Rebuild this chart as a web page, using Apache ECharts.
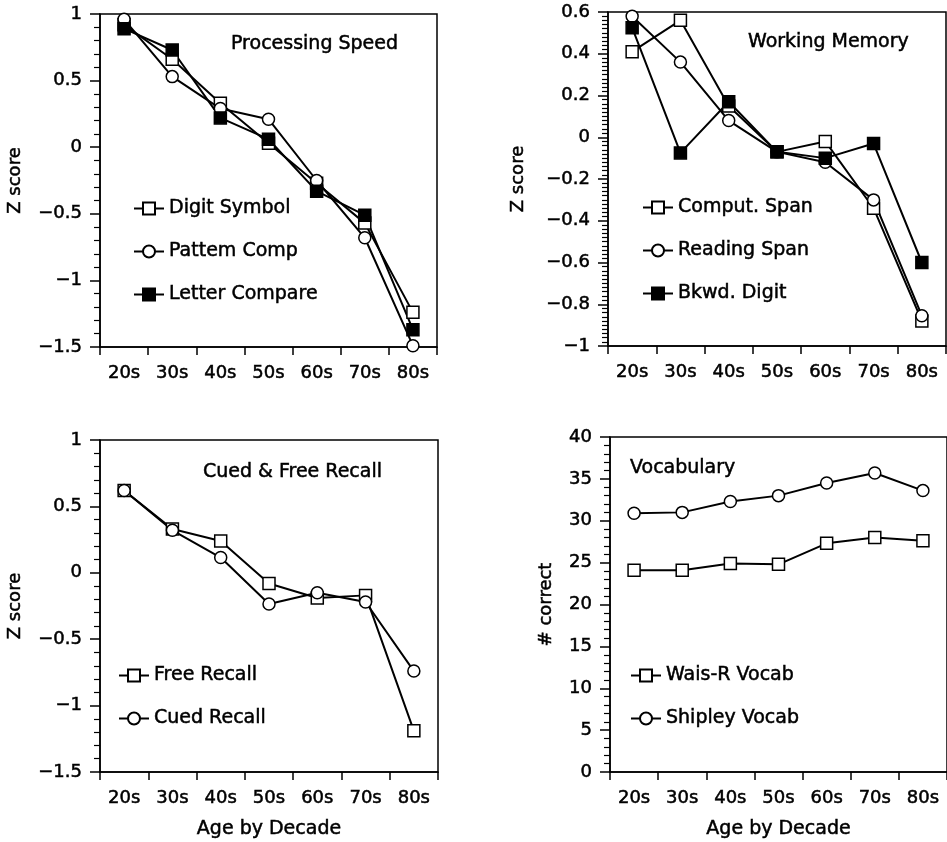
<!DOCTYPE html>
<html>
<head>
<meta charset="utf-8">
<script src="https://cdn.jsdelivr.net/npm/echarts@6/dist/echarts.min.js"></script>
<style>
  html, body { margin: 0; padding: 0; background: #fff; }
  #main { width: 947px; height: 842px; }
</style>
</head>
<body>
<div id="main"></div>
<script>
// age groups (x categories, shared by all four panels)
var decades = ['20s', '30s', '40s', '50s', '60s', '70s', '80s'];

// Processing Speed
var digitSymbol   = [0.92, 0.66, 0.33, 0.03, -0.27, -0.57, -1.24];
var patternComp   = [0.96, 0.53, 0.29, 0.21, -0.25, -0.68, -1.49];
var letterCompare = [0.89, 0.73, 0.22, 0.06, -0.33, -0.51, -1.37];

// Working Memory
var computSpan  = [0.41, 0.56, 0.15, -0.07, -0.02, -0.34, -0.88];
var readingSpan = [0.58, 0.36, 0.08, -0.07, -0.12, -0.30, -0.855];
var bkwdDigit   = [0.525, -0.075, 0.17, -0.07, -0.10, -0.03, -0.60];

// Cued & Free Recall
var freeRecall = [0.62, 0.33, 0.24, -0.08, -0.19, -0.17, -1.19];
var cuedRecall = [0.62, 0.32, 0.115, -0.235, -0.15, -0.22, -0.74];

// Vocabulary
var waisVocab    = [24.1, 24.1, 24.9, 24.8, 27.3, 28.0, 27.6];
var shipleyVocab = [30.9, 31.0, 32.3, 33.0, 34.5, 35.7, 33.6];

var FONT = 'DejaVu Sans';
// thin outline on text so it reads as heavy as the scanned figure
var INK = { textBorderColor: '#000', textBorderWidth: 0.5 };

var myChart = echarts.init(document.getElementById('main'));

function minusFmt(v) {
    return String(v).replace('-', '\u2212');
}

function xAxisOf(idx, name) {
    return {
        type: 'category',
        gridIndex: idx,
        data: decades,
        boundaryGap: true,
        name: name || '',
        nameLocation: 'middle',
        nameGap: 48,
        nameTextStyle: Object.assign({ color: '#000', fontFamily: FONT, fontSize: 19 }, INK),
        axisLine: { show: true, onZero: false, lineStyle: { color: '#000', width: 1.5 } },
        axisTick: { show: true, length: 8, lineStyle: { color: '#000', width: 1.5 } },
        axisLabel: Object.assign({ color: '#000', fontFamily: FONT, fontSize: 18, margin: 17 }, INK),
        splitLine: { show: false }
    };
}

function yAxisOf(idx, min, max, interval, minor, name, gap) {
    return {
        type: 'value',
        gridIndex: idx,
        min: min,
        max: max,
        interval: interval,
        name: name,
        nameLocation: 'middle',
        nameGap: gap,
        nameTextStyle: Object.assign({ color: '#000', fontFamily: FONT, fontSize: 18 }, INK),
        axisLine: { show: true, onZero: false, lineStyle: { color: '#000', width: 1.5 } },
        axisTick: { show: true, length: 10, lineStyle: { color: '#000', width: 1.5 } },
        minorTick: { show: true, splitNumber: minor, length: 6, lineStyle: { color: '#000', width: 1.2 } },
        axisLabel: Object.assign({ color: '#000', fontFamily: FONT, fontSize: 18, margin: 18, formatter: minusFmt }, INK),
        splitLine: { show: false }
    };
}

function lineOf(name, idx, data, symbol, filled) {
    return {
        name: name,
        type: 'line',
        xAxisIndex: idx,
        yAxisIndex: idx,
        data: data,
        symbol: symbol,
        symbolSize: 12,
        showAllSymbol: true,
        lineStyle: { color: '#000', width: 2 },
        itemStyle: { color: filled ? '#000' : '#fff', borderColor: '#000', borderWidth: 1.5 },
        emphasis: { disabled: true },
        animation: false
    };
}

function legendOf(names, left, top) {
    return {
        data: names,
        orient: 'vertical',
        left: left,
        top: top,
        itemWidth: 30,
        itemHeight: 15,
        itemGap: 20,
        padding: 0,
        selectedMode: false,
        textStyle: Object.assign({ color: '#000', fontFamily: FONT, fontSize: 19, lineHeight: 23 }, INK)
    };
}

function titleOf(text, left, top) {
    return {
        text: text,
        left: left,
        top: top,
        padding: 0,
        textStyle: Object.assign({ color: '#000', fontFamily: FONT, fontSize: 19, fontWeight: 'normal' }, INK)
    };
}

var gridStyle = { show: true, borderColor: '#000', borderWidth: 1.5, backgroundColor: 'transparent', containLabel: false };

var option = {
    backgroundColor: '#fff',
    animation: false,
    title: [
        titleOf('Processing Speed', 231, 35),
        titleOf('Working Memory', 748, 33),
        titleOf('Cued & Free Recall', 203, 463),
        titleOf('Vocabulary', 630, 459)
    ],
    legend: [
        legendOf(['Digit Symbol', 'Pattem Comp', 'Letter Compare'], 133, 197),
        legendOf(['Comput. Span', 'Reading Span', 'Bkwd. Digit'], 642, 196),
        legendOf(['Free Recall', 'Cued Recall'], 118, 664),
        legendOf(['Wais-R Vocab', 'Shipley Vocab'], 630, 664)
    ],
    grid: [
        Object.assign({ left: 100, top: 14, width: 337, height: 333 }, gridStyle),
        Object.assign({ left: 608, top: 12, width: 338, height: 334 }, gridStyle),
        Object.assign({ left: 100, top: 440, width: 338, height: 332 }, gridStyle),
        Object.assign({ left: 610, top: 437, width: 341, height: 335 }, gridStyle)
    ],
    xAxis: [
        xAxisOf(0),
        xAxisOf(1),
        xAxisOf(2, 'Age by Decade'),
        xAxisOf(3, 'Age by Decade')
    ],
    yAxis: [
        yAxisOf(0, -1.5, 1, 0.5, 5, 'Z score', 76),
        yAxisOf(1, -1, 0.6, 0.2, 10, 'Z score', 81),
        yAxisOf(2, -1.5, 1, 0.5, 5, 'Z score', 76),
        yAxisOf(3, 0, 40, 5, 5, '# correct', 55)
    ],
    series: [
        lineOf('Digit Symbol', 0, digitSymbol, 'rect', false),
        lineOf('Pattem Comp', 0, patternComp, 'circle', false),
        lineOf('Letter Compare', 0, letterCompare, 'rect', true),
        lineOf('Comput. Span', 1, computSpan, 'rect', false),
        lineOf('Reading Span', 1, readingSpan, 'circle', false),
        lineOf('Bkwd. Digit', 1, bkwdDigit, 'rect', true),
        lineOf('Free Recall', 2, freeRecall, 'rect', false),
        lineOf('Cued Recall', 2, cuedRecall, 'circle', false),
        lineOf('Wais-R Vocab', 3, waisVocab, 'rect', false),
        lineOf('Shipley Vocab', 3, shipleyVocab, 'circle', false)
    ]
};

myChart.setOption(option);
</script>
</body>
</html>
